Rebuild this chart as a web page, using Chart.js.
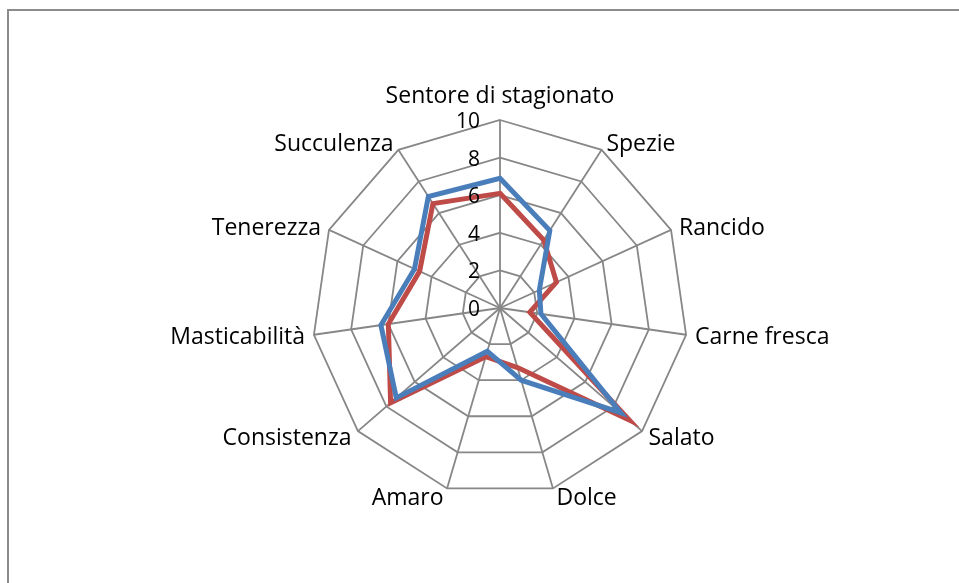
<!DOCTYPE html>
<html>
<head>
<meta charset="utf-8">
<script src="https://cdn.jsdelivr.net/npm/chart.js@4"></script>
<style>
  body { margin: 0; background: #fff; }
  #frame {
    position: absolute; left: 7px; top: 9px; width: 980px; height: 600px;
    border: 2px solid #8c8c8c; box-sizing: border-box;
  }
  #wrap { position: absolute; left: 0; top: 0; width: 959px; height: 583px; }
</style>
</head>
<body>
<div id="frame"></div>
<div id="wrap"><canvas id="radarChart"></canvas></div>
<script>
// Categories (clockwise from top)
const categories = ['Sentore di stagionato', 'Spezie', 'Rancido', 'Carne fresca', 'Salato', 'Dolce',
                    'Amaro', 'Consistenza', 'Masticabilità', 'Tenerezza', 'Succulenza'];
// Series values
const seriesBlue = [6.9, 4.9, 2.3, 2.2, 8.5, 4.0, 2.4, 7.3, 6.4, 5.0, 7.05];
const seriesRed  = [6.1, 4.3, 3.3, 1.6, 9.1, 3.3, 2.7, 7.7, 6.0, 4.7, 6.6];
// Tick labels
const tickValues = [0, 2, 4, 6, 8, 10];

const gridColor = '#878787';

// Excel-style labels: tick numbers left of the vertical axis,
// category names hugging the outer polygon corners
const excelLabels = {
    id: 'excelLabels',
    afterDraw(chart) {
        const scale = chart.scales.r;
        const ctx = chart.ctx;
        ctx.save();
        ctx.fillStyle = '#000';

        ctx.font = '21px "Open Sans"';
        ctx.textAlign = 'right';
        ctx.textBaseline = 'middle';
        tickValues.forEach(v => {
            const p = scale.getPointPositionForValue(0, v);
            ctx.fillText(String(v), p.x - 20, p.y + 2);
        });

        ctx.font = '23px "Open Sans"';
        ctx.textBaseline = 'alphabetic';
        const capH = 16;
        categories.forEach((name, i) => {
            const v = scale.getPointPosition(i, scale.drawingArea);
            const a = scale.getIndexAngle(i);
            const s = Math.sin(a), c = Math.cos(a);
            if (Math.abs(s) < 0.05) {
                ctx.textAlign = 'center';
                ctx.fillText(name, v.x, v.y - 17);
                return;
            }
            const dx = 3 + 6 * s * s;
            const centerY = v.y - 8.3 * c + 0.5;
            ctx.textAlign = s > 0 ? 'left' : 'right';
            ctx.fillText(name, v.x + (s > 0 ? dx : -dx), centerY + capH / 2);
        });
        ctx.restore();
    }
};

const ctx = document.getElementById('radarChart').getContext('2d');
new Chart(ctx, {
    type: 'radar',
    data: {
        labels: categories,
        datasets: [{
            label: 'Serie 1',
            data: seriesBlue,
            borderColor: '#4a7ebb',
            borderWidth: 5,
            fill: false,
            pointRadius: 0,
            tension: 0
        }, {
            label: 'Serie 2',
            data: seriesRed,
            borderColor: '#be4b48',
            borderWidth: 5,
            fill: false,
            pointRadius: 0,
            tension: 0
        }]
    },
    options: {
        responsive: true,
        maintainAspectRatio: false,
        animation: false,
        layout: { padding: { top: 120, bottom: 87, left: 41, right: 0 } },
        plugins: {
            legend: { display: false },
            tooltip: { enabled: false }
        },
        scales: {
            r: {
                min: 0,
                max: 10,
                ticks: { stepSize: 2, display: false },
                grid: {
                    color: gridColor,
                    lineWidth: 1.8,
                    circular: false
                },
                angleLines: { color: gridColor, lineWidth: 1.8 },
                pointLabels: { display: false }
            }
        }
    },
    plugins: [excelLabels]
});
</script>
</body>
</html>
